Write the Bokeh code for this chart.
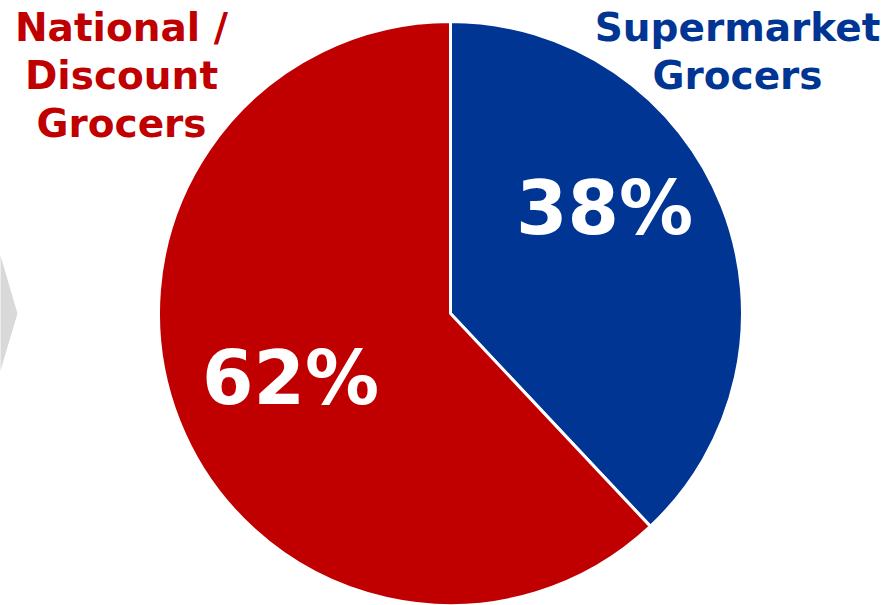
import math
from bokeh.plotting import figure
from bokeh.models import Range1d, ColumnDataSource
from bokeh.core.properties import value
from bokeh.embed import file_html
from bokeh.resources import INLINE

categories = ["Supermarket Grocers", "National / Discount Grocers"]
shares = [38, 62]
colors = ["#003594", "#C00000"]
pct_labels = ["38%", "62%"]

W, H = 895, 605
p = figure(width=W, height=H, output_backend="svg", toolbar_location=None,
           x_range=Range1d(0, W), y_range=Range1d(0, H), min_border=0)
p.axis.visible = False
p.grid.visible = False
p.outline_line_color = None
p.background_fill_color = "white"
p.border_fill_color = "white"

# grey chevron decoration at left edge
p.patch([-40, 0, 17, 0, -40], [H - 255, H - 255, H - 313, H - 370, H - 370],
        fill_color="#D9D9D9", line_color=None)

cx, cy, r = 450, H - 313, 292
total = sum(shares)
starts, ends = [], []
a = math.pi / 2
for s in shares:
    starts.append(a)
    a = a - s / total * 2 * math.pi
    ends.append(a)

src = ColumnDataSource(dict(cat=categories, start=starts, end=ends, color=colors))
p.wedge(x=cx, y=cy, radius=r, start_angle="start", end_angle="end",
        direction="clock", fill_color="color", line_color="white", line_width=3,
        source=src)

font = value("DejaVu Sans")
# percent labels
p.text(x=[604, 290], y=[H - 207, H - 377], text=pct_labels, text_font=font,
       text_font_style="bold", text_font_size="74px", text_color="white",
       text_align="center", text_baseline="middle")

# category labels
p.text(x=[737, 737], y=[H - 27, H - 75], text=["Supermarket", "Grocers"],
       text_font=font, text_font_style="bold", text_font_size="39px",
       text_color=colors[0], text_align="center", text_baseline="middle")
p.text(x=[121, 121, 121], y=[H - 27, H - 75, H - 123],
       text=["National /", "Discount", "Grocers"],
       text_font=font, text_font_style="bold", text_font_size="39px",
       text_color=colors[1], text_align="center", text_baseline="middle")

open("out.html", "w").write(file_html(p, INLINE))
